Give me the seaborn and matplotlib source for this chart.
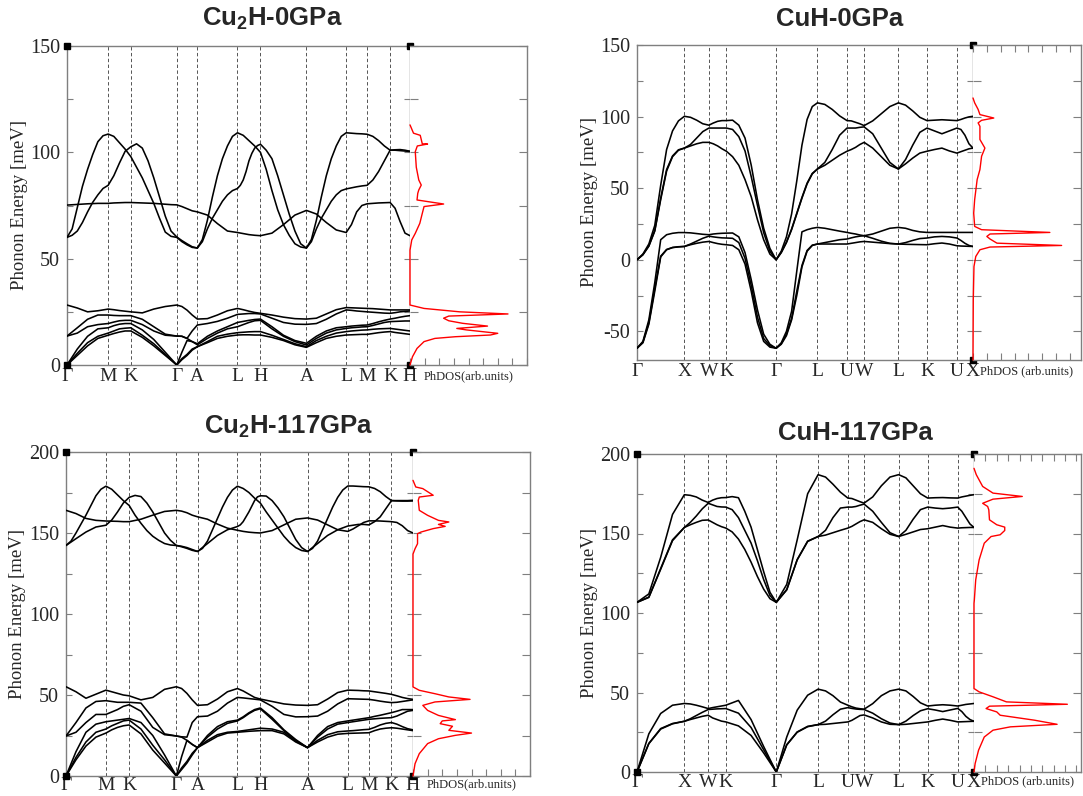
import numpy as np
import pandas as pd
import matplotlib
matplotlib.use("Agg")
import matplotlib.pyplot as plt
import seaborn as sns
from matplotlib.ticker import MultipleLocator

sns.set_theme(style="white")
plt.rcParams['font.family'] = ['Liberation Serif', 'DejaVu Serif']
plt.rcParams['axes.unicode_minus'] = False
plt.rcParams['mathtext.fontset'] = 'custom'
plt.rcParams['mathtext.rm'] = 'Liberation Sans:bold'
plt.rcParams['mathtext.bf'] = 'Liberation Sans:bold'

# ---------------- high-symmetry paths ----------------
hex_labels = ['Γ', 'M', 'K', 'Γ', 'A', 'L', 'H', 'A', 'L', 'M', 'K', 'H']
fcc_labels = ['Γ', 'X', 'W', 'K', 'Γ', 'L', 'U', 'W', 'L', 'K', 'U', 'X']
p1_hs = [0, 0.120, 0.186, 0.320, 0.380, 0.497, 0.564, 0.698, 0.814, 0.875, 0.942, 1.0]
p3_hs = [0, 0.115, 0.182, 0.318, 0.379, 0.494, 0.560, 0.696, 0.812, 0.873, 0.938, 1.0]
p2_hs = [0, 0.141, 0.214, 0.266, 0.414, 0.537, 0.625, 0.676, 0.778, 0.863, 0.952, 1.0]
p4_hs = [0, 0.1405, 0.2113, 0.2636, 0.4133, 0.5374, 0.6256, 0.6738, 0.7764, 0.8626, 0.9518, 1.0]

# ---------------- Cu2H 0 GPa bands (meV, per path segment) ----------------
p1_u1 = [[60, 64, 74, 84, 92, 99, 105, 107.8, 108.6], [108.6, 107.5, 104.5, 101.5, 98],
         [98, 93, 88, 82, 76, 69, 62.5, 60.5, 60], [60, 58, 56.5, 55.3, 55],
         [55, 59, 68, 79, 89, 97, 103, 107.5, 109.2], [109.2, 108, 105.5, 103, 100],
         [100, 92, 82, 73, 66, 61, 57, 55.5, 55],
         [55, 59, 68, 79, 89, 97, 103, 107.5, 109.2], [109.2, 109, 108.8, 108.7, 108.5],
         [108.5, 107.5, 105.5, 103, 101], [101, 101.2, 101.3, 101, 100.5]]
p1_u2 = [[60, 61, 63, 67, 72, 76.5, 80, 83, 84.5], [84.5, 89, 95, 100.5, 102.6],
         [102.6, 104, 102, 96, 88, 79, 70, 63, 60.2], [60.2, 58.5, 57, 55.6, 55],
         [55, 58, 64, 69, 73, 77, 80, 82, 83], [83, 84.5, 87, 91, 96, 99.5, 102, 103.2, 103.8],
         [103.8, 101, 97, 89, 80, 71, 63, 57, 55],
         [55, 58, 64, 69, 73, 77, 80, 82, 82.8], [82.8, 83.3, 83.8, 84.2, 84.5],
         [84.5, 87, 91, 96, 101], [101, 101, 100.8, 100.6, 100.4]]
p1_u3 = [[75.2, 75.5, 75.8, 76, 76], [76, 76.2, 76.3, 76.4, 76.4],
         [76.4, 76.3, 76.2, 76.1, 76, 75.8, 75.6, 75.4, 75.3], [75.3, 74.5, 73.5, 72.5, 72],
         [72, 70.5, 66.5, 63, 62.3], [62.3, 61.8, 61.3, 61, 60.8], [60.8, 62, 66, 70.5, 72.7],
         [72.7, 71, 67, 63.5, 62.3], [62.3, 66, 72, 75, 75.8],
         [75.8, 76, 76.2, 76.3, 76.4], [76.4, 73.7, 67.5, 62, 60.8]]
p1_l1 = [[0, 4.5, 9, 12.5, 14], [14, 14.8, 15.5, 16, 16], [16, 13, 9, 4.5, 0], [0, 2.5, 4.5, 7, 8.6],
         [8.6, 10.5, 12.5, 13.5, 14.1], [14.1, 14.2, 14.2, 14.1, 14.1], [14.1, 13, 11.5, 9.5, 8.3],
         [8.3, 10.5, 12.5, 13.5, 14.1], [14.1, 14.2, 14.3, 14.4, 14.4], [14.4, 14.8, 15.2, 15.5, 15.7],
         [15.7, 15.3, 15, 14.7, 14.4]]
p1_l2 = [[0, 5.5, 10.5, 13.5, 15], [15, 16, 17, 17.3, 17.5], [17.5, 14, 10, 5, 0], [0, 3, 5, 7.5, 8.6],
         [8.6, 11, 13.5, 14.5, 15.2], [15.2, 15.4, 15.6, 15.7, 15.7], [15.7, 14, 12, 10, 8.6],
         [8.6, 11.5, 13.5, 15, 15.7], [15.7, 16, 16.2, 16.4, 16.5], [16.5, 16.8, 17, 17.1, 17.2],
         [17.2, 16.9, 16.6, 16.3, 16]]
p1_l3 = [[0, 7.5, 13.5, 17, 17.5], [17.5, 18.5, 19.2, 19.5, 19.5], [19.5, 16.5, 12, 6, 0], [0, 6, 11.5, 11, 9.5],
         [9.5, 12.5, 15, 17, 18], [18, 19, 20, 20.8, 21], [21, 17, 13.5, 11, 9.4],
         [9.4, 12.5, 15, 16.5, 17.2], [17.2, 17.5, 17.7, 17.9, 18], [18, 18.6, 19.3, 20, 20.4],
         [20.4, 20.5, 20.6, 20.7, 20.7]]
p1_l4 = [[13.6, 15, 18, 19, 19.5], [19.5, 20.2, 20.8, 21, 21], [21, 19, 16, 14, 13.6], [13.6, 13.5, 12.5, 11, 10],
         [10, 13.5, 16, 18, 20], [20, 20.5, 21, 21.4, 21.6], [21.6, 18, 14, 11.5, 10.2],
         [10.2, 13.5, 16, 17.5, 18], [18, 18.3, 18.5, 18.7, 18.8], [18.8, 19.5, 20.3, 21, 21.6],
         [21.6, 22, 22.5, 22.9, 23.2]]
p1_l5 = [[13.6, 17.5, 21.5, 23.5, 23.5], [23.5, 23.3, 23.2, 23.2, 23.2], [23.2, 21.5, 18, 14.5, 13.6],
         [13.6, 13.5, 12.5, 16, 18.8], [18.8, 19.5, 20.5, 22, 23.8], [23.8, 24, 24.2, 24.2, 24],
         [24, 22, 20, 19.2, 19.1], [19.1, 19.5, 21.5, 24, 25.9], [25.9, 25.7, 25.4, 25.2, 25],
         [25, 24.8, 24.6, 24.4, 24.3], [24.3, 24.6, 25, 25.2, 25.4]]
p1_l6 = [[28.2, 26.8, 25, 25.5, 26.3], [26.3, 26, 25.6, 25.3, 25], [25, 24.5, 26.3, 27.5, 28.2],
         [28.2, 27.5, 25.8, 23.5, 21.6], [21.6, 21.8, 23.5, 25.5, 26.6], [26.6, 26, 25.3, 24.7, 24.3],
         [24.3, 23.5, 22.5, 21.8, 21.6], [21.6, 22, 24, 26, 27], [27, 26.9, 26.8, 26.7, 26.6],
         [26.6, 26.5, 26.3, 26.1, 25.9], [25.9, 25.9, 25.9, 25.9, 25.9]]

# ---------------- CuH 0 GPa bands ----------------
p2_u1 = [[0, 3.5, 9.5, 20, 42, 62, 72, 76.5, 78], [78, 79.5, 81, 82, 82], [82, 81, 79.5, 77.5, 75.8],
         [75.8, 72, 66, 56, 44, 28, 14, 4, 0], [0, 5, 12, 21, 32, 43, 53, 60, 63.4],
         [63.4, 66, 69.5, 73, 75.8], [75.8, 77, 78.5, 80.5, 82], [82, 78, 72, 66, 63.4],
         [63.4, 67, 71, 74.5, 75.8], [75.8, 77, 78, 76, 74.5], [74.5, 75.5, 76.5, 77.5, 78]]
p2_u2 = [[0, 3.6, 9.7, 20.5, 43, 63, 72.5, 76.8, 78], [78, 80.5, 85, 89.5, 92], [92, 92, 92, 92, 92],
         [92, 91, 86, 76, 58, 38, 19, 6, 0], [0, 5.2, 12.3, 21.5, 32.5, 43.5, 53.5, 60.3, 63.4],
         [63.4, 68, 77, 87, 92], [92, 92, 92, 92.5, 92.8], [92.8, 88, 78, 68, 63.4],
         [63.4, 70, 80, 89, 92], [92, 90, 88, 90, 92], [92, 91, 87, 81, 78]]
p2_u3 = [[0, 4, 11, 24, 52, 77, 90, 97, 100.2], [100.2, 99.5, 97.5, 95, 94], [94, 95.5, 96.7, 97.2, 97.2],
         [97.2, 97.5, 94, 85, 66, 42, 22, 8, 0], [0, 6, 16, 32, 55, 80, 98, 107, 109.6],
         [109.6, 108.5, 105, 100.5, 97.2], [97.2, 97, 96, 95, 93.7], [93.7, 97, 102, 107, 109.6],
         [109.6, 108, 104, 99.5, 97.2], [97.2, 97.5, 97.8, 97.5, 97.2], [97.2, 98, 99, 99.8, 100.2]]
p2_l1 = [[-61.8, -58, -45, -22, 2, 7, 8.5, 9, 9.3], [9.3, 10.5, 11.5, 12.3, 12.8], [12.8, 12, 11.3, 10.8, 10.5],
         [10.5, 10, 7, -3, -22, -44, -57, -61, -61.8], [-61.8, -59, -53, -42, -25, -5, 6, 10, 11],
         [11, 11, 11, 11, 11], [11, 11.5, 12, 12.5, 12.8], [12.8, 12.3, 11.8, 11.3, 11],
         [11, 10.8, 10.7, 10.6, 10.5], [10.5, 11.2, 11.7, 11, 9.8], [9.8, 9.6, 9.5, 9.4, 9.3]]
p2_l2 = [[-61.8, -57.5, -44, -20, 2.5, 7.2, 8.6, 9.1, 9.3], [9.3, 11, 13, 15, 16.5], [16.5, 16, 15.6, 15.3, 15.2],
         [15.2, 15, 12, 1, -18, -40, -55, -60, -61.8], [-61.8, -58.5, -52, -41, -22, -4, 6.5, 10.2, 11],
         [11, 12, 13, 14, 14.5], [14.5, 15.3, 16, 16.5, 16.8], [16.8, 15, 13, 11.5, 11],
         [11, 12, 13.5, 14.8, 15.2], [15.2, 16, 16.3, 16, 15.2], [15.2, 13.5, 11.5, 10, 9.3]]
p2_l3 = [[-61.8, -57, -42, -16, 14, 17.5, 18.5, 19, 19], [19, 18.8, 18.3, 17.8, 17.5], [17.5, 18, 18.3, 18.5, 18.6],
         [18.6, 18.7, 16, 5, -14, -35, -52, -59, -61.8], [-61.8, -58, -50, -36, -8, 19.5, 21, 22, 22.6],
         [22.6, 22, 21, 20, 19.1], [19.1, 18.5, 18, 17.3, 16.8], [16.8, 18, 20, 22, 22.6],
         [22.6, 22, 20.5, 19.5, 19.1], [19.1, 19.1, 19.1, 19.1, 19.1], [19.1, 19.1, 19.1, 19.1, 19.1]]

# ---------------- Cu2H 117 GPa bands ----------------
p3_u1 = [[142.3, 145, 150, 155.5, 161, 167, 173, 177, 178.9], [178.9, 177, 173.5, 170, 167],
         [167, 161, 156, 151.5, 148, 145.5, 143.5, 142.6, 142.3],
         [142.3, 141.5, 140.5, 139.3, 138.6], [138.6, 140.5, 145, 152, 159, 166, 172, 176.5, 178.9],
         [178.9, 177.5, 175, 171.5, 168.5], [168.5, 163, 158, 153, 148, 144, 141, 139.2, 138.6],
         [138.6, 140.5, 145, 152, 159, 166, 172, 176.5, 179], [179, 179, 178.8, 178.6, 178.5],
         [178.5, 177.5, 175.5, 172.5, 170], [170, 170, 170, 170, 170.2]]
p3_u2 = [[142.3, 146.5, 150.6, 153.7, 154.8], [154.8, 158, 163, 168.5, 172],
         [172, 173.2, 172.5, 168.5, 163, 156.5, 150, 145.5, 142.3],
         [142.3, 141.8, 141, 139.8, 138.6], [138.6, 143.5, 148.5, 152, 154],
         [154, 155, 157, 160, 163, 166.5, 170, 172.3, 173],
         [173, 172.8, 170, 165.5, 160, 153, 146, 141, 138.6], [138.6, 143.5, 148.5, 152, 154.3],
         [154.3, 154.8, 155.3, 155.3, 155], [155, 157, 160, 165, 170], [170, 169.8, 169.7, 169.7, 169.8]]
p3_u3 = [[164, 162, 159, 157.8, 157.4], [157.4, 157.3, 157.2, 157, 157], [157, 158.5, 161, 163.3, 164],
         [164, 163.5, 162.5, 161, 160], [160, 158.5, 155.5, 153, 151.7], [151.7, 151, 150.5, 150.2, 150],
         [150, 151.5, 155, 158.5, 159.3], [159.3, 158, 155, 152, 151], [151, 152.5, 154.5, 156.5, 157.5],
         [157.5, 157.5, 157.4, 157.2, 157], [157, 156.5, 154.5, 151.5, 150]]
p3_l1 = [[0, 10, 18.5, 24, 26.5], [26.5, 28.5, 30, 31, 31.5], [31.5, 26, 16, 8, 0], [0, 4, 8, 13, 17.5],
         [17.5, 21, 24.5, 26.5, 27], [27, 27.3, 27.6, 27.8, 28], [28, 28, 26, 21, 17.5],
         [17.5, 21, 24, 25.8, 26.3], [26.3, 26.4, 26.5, 26.6, 26.7], [26.7, 28, 29, 29.5, 29.8],
         [29.8, 29.5, 29, 28.5, 28]]
p3_l2 = [[0, 11.5, 21, 27, 29], [29, 31, 32.5, 34, 34.5], [34.5, 29, 19, 10, 0], [0, 5, 9, 14, 17.5],
         [17.5, 22, 25.5, 27, 27.5], [27.5, 28, 28.5, 29, 29.5], [29.5, 29, 27, 21.5, 17.5],
         [17.5, 22, 25.5, 27.3, 27.8], [27.8, 28, 28.3, 28.6, 28.8], [28.8, 30, 31.5, 32.5, 33],
         [33, 32, 30.5, 29.2, 28.5]]
p3_l3 = [[0, 15, 27, 32, 33.5], [33.5, 34, 34.5, 35, 35.5], [35.5, 33, 25, 13, 0], [0, 12, 22, 19.5, 17.5],
         [17.5, 24, 29, 32.5, 34], [34, 36, 38.5, 40.5, 41.5], [41.5, 35, 28, 22, 17.5],
         [17.5, 24, 29, 32, 33], [33, 33.5, 34, 34.5, 35], [35, 35.3, 35.6, 35.8, 36],
         [36, 37, 38.5, 40, 40.5]]
p3_l4 = [[24.7, 27, 33, 38, 38], [38, 39.5, 41, 43, 44], [44, 40, 30, 25.5, 24.7], [24.7, 24, 22, 19.5, 17.5],
         [17.5, 25, 30.5, 33.5, 34.5], [34.5, 36.5, 39, 41, 42], [42, 36, 28.5, 22.5, 17.5],
         [17.5, 25, 30.5, 33, 34], [34, 34.5, 35, 35.5, 36], [36, 36.8, 37.5, 38.3, 39.1],
         [39.1, 40, 41, 41, 41]]
p3_l5 = [[24.7, 33, 42, 46, 46.5], [46.5, 46, 45.5, 45.5, 45.5], [45.5, 45, 36, 26, 24.7],
         [24.7, 24.2, 24, 33, 36.6], [36.6, 37, 40, 45, 48.5], [48.5, 48.2, 47.8, 47.4, 47],
         [47, 43, 38, 36.5, 36.6], [36.6, 37, 40, 44.5, 47.7], [47.7, 47.6, 47.5, 47.4, 47.3],
         [47.3, 46.8, 46.2, 45.7, 45.3], [45.3, 45.5, 46, 46.5, 47]]
p3_l6 = [[55.1, 52, 48, 50.5, 53], [53, 52, 51, 50, 49.5], [49.5, 47, 48.5, 53.5, 55.1],
         [55.1, 54, 51, 47, 43.6], [43.6, 44, 47.5, 52, 54], [54, 52.5, 50.5, 48.5, 47.5],
         [47.5, 46, 44.5, 43.8, 43.6], [43.6, 44, 47.5, 51.5, 53], [53, 52.9, 52.8, 52.6, 52.5],
         [52.5, 52, 51.5, 51, 50.4], [50.4, 49.5, 48.5, 47.8, 47.3]]

# ---------------- CuH 117 GPa bands ----------------
p4_u1 = [[106.7, 109.8, 127.5, 145.5, 153.8], [153.8, 155.5, 157, 158.3, 158.5], [158.5, 157, 155.5, 154.3, 153.4],
         [153.4, 151, 146.5, 140, 132, 123, 115, 109, 106.7], [106.7, 114.5, 133.4, 145, 148.1],
         [148.1, 149, 150.5, 152, 153.4], [153.4, 154.5, 156, 157.5, 158.6], [158.6, 157, 153, 149.5, 148.1],
         [148.1, 149.5, 151, 152.5, 153], [153, 154, 155, 154, 153.4], [153.4, 153.6, 153.7, 153.8, 153.8]]
p4_u2 = [[106.7, 110, 128, 146, 153.8], [153.8, 157, 161, 165.5, 169], [169, 168, 167, 166.7, 166.6],
         [166.6, 165, 160, 152, 144, 133, 121, 111, 106.7], [106.7, 114.8, 133.6, 145.2, 148.1],
         [148.1, 152, 160, 166, 166.6], [166.6, 166.6, 167, 167.8, 168.5], [168.5, 164, 157, 150.5, 148.1],
         [148.1, 152, 159, 165, 166.6], [166.6, 166, 165.6, 166, 166.6], [166.6, 164, 160, 156, 153.8]]
p4_u3 = [[106.7, 112, 135, 162, 174.4], [174.4, 174, 173, 171, 169.5], [169.5, 171, 172, 172.5, 172.6],
         [172.6, 173.2, 172.5, 164, 154, 140, 126, 113, 106.7], [106.7, 118, 146, 175, 187],
         [187, 185.5, 181, 176, 172.3], [172.3, 172, 171, 170, 169.1], [169.1, 173, 180, 185.5, 187],
         [187, 185, 180, 175, 172.3], [172.3, 172.5, 172.6, 172.4, 172.3], [172.3, 173, 173.5, 174, 174.4]]
p4_l1 = [[0, 17.8, 27, 30.3, 31.9], [31.9, 33, 34, 35, 35.7], [35.7, 34, 33, 32, 31.5], [31.5, 29, 23, 12, 0],
         [0, 17, 25, 28.5, 29.8], [29.8, 30, 30.5, 31, 31.5], [31.5, 32.5, 34, 35.5, 35.9],
         [35.9, 34, 31.5, 30, 29.8], [29.8, 30, 30.5, 31, 31.5], [31.5, 32.5, 33.3, 32.5, 31.5],
         [31.5, 31.6, 31.7, 31.8, 31.9]]
p4_l2 = [[0, 18, 27.3, 30.5, 31.9], [31.9, 33.5, 35.5, 37.5, 39.3], [39.3, 39.5, 39.7, 39.8, 39.9],
         [39.9, 37, 28, 14, 0], [0, 17.2, 25.2, 28.7, 29.8], [29.8, 32, 36, 39.5, 40.5],
         [40.5, 40, 39.6, 39.4, 39.3], [39.3, 37, 33.5, 30.8, 29.8], [29.8, 32, 35.5, 38.5, 39.8],
         [39.8, 39, 38, 39, 40], [40, 38, 35, 33, 31.9]]
p4_l3 = [[0, 24, 36.8, 42, 43.1], [43.1, 42.8, 42, 41, 39.9], [39.9, 40.5, 41, 41.5, 42], [42, 45, 33, 16, 0],
         [0, 22, 38.9, 48.3, 52.1], [52.1, 51, 48, 44, 42], [42, 41, 40.2, 39.8, 39.5],
         [39.5, 43, 48, 51, 52.1], [52.1, 51, 47.5, 43.5, 41.5], [41.5, 42, 42.3, 42, 41.5],
         [41.5, 42, 42.5, 42.8, 43.1]]

# ---------------- phonon DOS (energy in meV, DOS in arb. units) ----------------
p1_dos_E = [112.9, 109, 108, 104, 103.9, 103, 100.3, 93, 87, 84.6, 82.3, 80.7, 77.6, 75.7, 74.5, 71.3,
            66.6, 61.9, 58.8, 54, 28.2, 26.6, 25, 24, 23, 22, 20.8, 19.6, 18.3, 17.2, 16.5, 14.9, 14.1,
            13.3, 12.5, 11, 7.8, 3.9, 0]
p1_dos_D = [0, 0.24, 0.7, 0.84, 1.2, 0.5, 0.36, 0.43, 0.6, 0.77, 0.6, 0.53, 0.48, 2.3, 0.96, 0.84,
            0.67, 0.36, 0.12, 0, 0, 0.96, 3.4, 6.7, 2.65, 2.3, 2.65, 3.6, 5.3, 3.2, 3.86, 6.0, 5.5,
            3.1, 1.7, 0.96, 0.48, 0.17, 0]
p2_dos_E = [113, 109.6, 105, 101.4, 99, 97.4, 95.6, 93.2, 84, 78, 72.3, 63, 56, 42, 32.6, 23.3, 21,
            19.1, 18, 16.3, 14.5, 11.6, 10, 8.9, 7, 2.3, -4.7, -28, -70]
p2_dos_D = [0, 0.12, 0.37, 0.5, 1.5, 0.62, 0.37, 0.5, 0.5, 0.86, 0.62, 0.5, 0.3, 0.12, 0.05, 0.12, 0.62,
            5.55, 1.23, 1.0, 1.23, 1.73, 6.4, 1.23, 0.5, 0.2, 0.07, 0.02, 0]
p3_dos_E = [182.5, 178.4, 177.4, 173.3, 172.2, 170.2, 164, 160.9, 157.8, 156.8, 155.3, 154.1, 152.7,
            150.6, 149.6, 143.4, 140.3, 137, 55, 52.9, 50.8, 48.8, 47.3, 45.7, 43.6, 40.5, 37.4, 34.8,
            34, 32.3, 30.7, 28.2, 26.5, 25.1, 23, 20, 13.8, 7.6, 0]
p3_dos_D = [0, 0.19, 0.67, 1.38, 0.43, 0.36, 0.43, 1.0, 1.74, 2.45, 1.74, 2.2, 1.38, 0.55, 0.31, 0.31,
            0.14, 0, 0, 0.43, 1.5, 2.45, 3.9, 1.5, 0.67, 1.0, 1.74, 2.9, 2.0, 1.86, 2.7, 2.45, 4.0, 2.9,
            1.74, 1.0, 0.43, 0.14, 0]
p4_dos_E = [191, 187, 179.6, 175.4, 173.3, 171.6, 169, 167, 164.9, 158.6, 155.5, 154, 151.9, 149.2,
            148.1, 143.9, 133.4, 120.8, 108.2, 106, 52.5, 50.4, 47.3, 44.1, 42.6, 41.4, 39.9, 37.8,
            35.7, 32.6, 30, 28.4, 26.3, 22, 13.7, 5.3, 0]
p4_dos_D = [0, 0.2, 0.76, 1.67, 4.24, 1.67, 0.76, 1.2, 1.3, 1.36, 2.0, 2.7, 2.7, 2.3, 1.5, 0.9, 0.45,
            0.15, 0.03, 0, 0, 0.45, 1.67, 2.85, 8.2, 1.36, 1.06, 2.0, 2.3, 5.3, 7.3, 3.2, 1.67, 0.9,
            0.4, 0.1, 0]

titles = [r'Cu$_\mathbf{2}$H-0GPa', 'CuH-0GPa', r'Cu$_\mathbf{2}$H-117GPa', 'CuH-117GPa']
ylabel = 'Phonon Energy [meV]'

W, H = 1083, 796
SPINE = '#7f7f7f'


def frac(l, r, t, b):
    return [l / W, 1 - b / H, (r - l) / W, (b - t) / H]


def band_frame(hs, bands):
    rows = []
    for bi, segs in enumerate(bands):
        for i, seg in enumerate(segs):
            xs = np.linspace(hs[i], hs[i + 1], len(seg))
            for x, y in zip(xs, seg):
                rows.append((bi, x, y))
    return pd.DataFrame(rows, columns=['band', 'k', 'E'])


def squares(ax, pts):
    for (px, py) in pts:
        ax.plot([px], [py], marker='s', ms=3.8, mfc='black', mec='black',
                transform=ax.transAxes, clip_on=False, zorder=6)


def panel(fig, xs, t, b, hs, labels, bands, ylim, dE, dD, dxmax, dlabel, top_ticks, left_sq, xpad):
    l, m, r = xs
    axb = fig.add_axes(frac(l, m, t, b))
    axd = fig.add_axes(frac(m, r, t, b))
    df = band_frame(hs, bands)
    for x in hs[1:-1]:
        axb.axvline(x, color='#555555', lw=0.7, ls=(0, (3.5, 2.5)), zorder=1)
    sns.lineplot(data=df, x='k', y='E', units='band', estimator=None, sort=False,
                 color='black', lw=1.15, ax=axb, legend=False, zorder=3)
    axb.set_xlim(0, 1)
    axb.set_ylim(*ylim)
    axb.set_xticks(hs)
    axb.set_xticklabels(labels, fontsize=14)
    axb.yaxis.set_major_locator(MultipleLocator(50))
    axb.yaxis.set_minor_locator(MultipleLocator(25))
    axb.tick_params(axis='x', length=0, pad=xpad)
    axb.tick_params(axis='y', which='both', direction='in', left=True, right=True,
                    length=4, width=0.8, color=SPINE, labelsize=14.5, pad=5)
    axb.set_xlabel('')
    axb.set_ylabel('')
    sns.lineplot(x=dD, y=dE, sort=False, estimator=None, color='red', lw=1.0, ax=axd,
                 clip_on=False, zorder=4)
    axd.set_ylim(*ylim)
    axd.set_xlim(0, dxmax)
    axd.xaxis.set_major_locator(MultipleLocator(1))
    axd.yaxis.set_major_locator(MultipleLocator(25))
    axd.tick_params(axis='x', direction='in', bottom=True, top=top_ticks, length=5,
                    width=0.8, color=SPINE, labelbottom=False)
    axd.tick_params(axis='y', direction='in', left=True, right=True, length=6,
                    width=0.8, color=SPINE, labelleft=False)
    axd.set_xlabel(dlabel, fontsize=9, labelpad=xpad + 1)
    axd.set_ylabel('')
    for ax in (axb, axd):
        ax.set_facecolor('white')
        for s in ax.spines.values():
            s.set_color(SPINE)
            s.set_linewidth(1.0)
    axd.spines['left'].set_visible(False)
    sq = [(1, 0), (1, 1)]
    squares(axb, sq + ([(0, 0), (0, 1)] if left_sq else []))
    return axb, axd


fig = plt.figure(figsize=(W / 100, H / 100), dpi=100)
fig.patch.set_facecolor('white')

panel(fig, (67, 410, 527), 46, 365, p1_hs, hex_labels,
      [p1_u1, p1_u2, p1_u3, p1_l1, p1_l2, p1_l3, p1_l4, p1_l5, p1_l6], (0, 150),
      p1_dos_E, p1_dos_D, 8.0, 'PhDOS(arb.units)', False, True, 2.5)
panel(fig, (637, 973, 1081), 45, 360, p2_hs, fcc_labels,
      [p2_u1, p2_u2, p2_u3, p2_l1, p2_l2, p2_l3], (-70, 150),
      p2_dos_E, p2_dos_D, 7.8, 'PhDOS (arb.units)', True, False, 2.5)
panel(fig, (66, 413, 530), 452, 776, p3_hs, hex_labels,
      [p3_u1, p3_u2, p3_u3, p3_l1, p3_l2, p3_l3, p3_l4, p3_l5, p3_l6], (0, 200),
      p3_dos_E, p3_dos_D, 8.0, 'PhDOS(arb.units)', False, True, 0.8)
panel(fig, (637, 974, 1081), 454, 772, p4_hs, fcc_labels,
      [p4_u1, p4_u2, p4_u3, p4_l1, p4_l2, p4_l3], (0, 200),
      p4_dos_E, p4_dos_D, 9.4, 'PhDOS (arb.units)', True, True, 1.5)

title_pos = [(272, 19), (840, 19), (289, 427), (855, 433)]
for (tx, ty), tt in zip(title_pos, titles):
    fig.text(tx / W, 1 - ty / H, tt, ha='center', va='center', fontsize=18.5,
             fontweight='bold', family=['Liberation Sans', 'DejaVu Sans'])

ylab_pos = [(20, 205), (590, 202), (18, 614), (589, 613)]
for (lx, ly) in ylab_pos:
    fig.text(lx / W, 1 - ly / H, ylabel, rotation=90, ha='center', va='center', fontsize=13.5)

fig.savefig('out.png', dpi=100, facecolor='white')
